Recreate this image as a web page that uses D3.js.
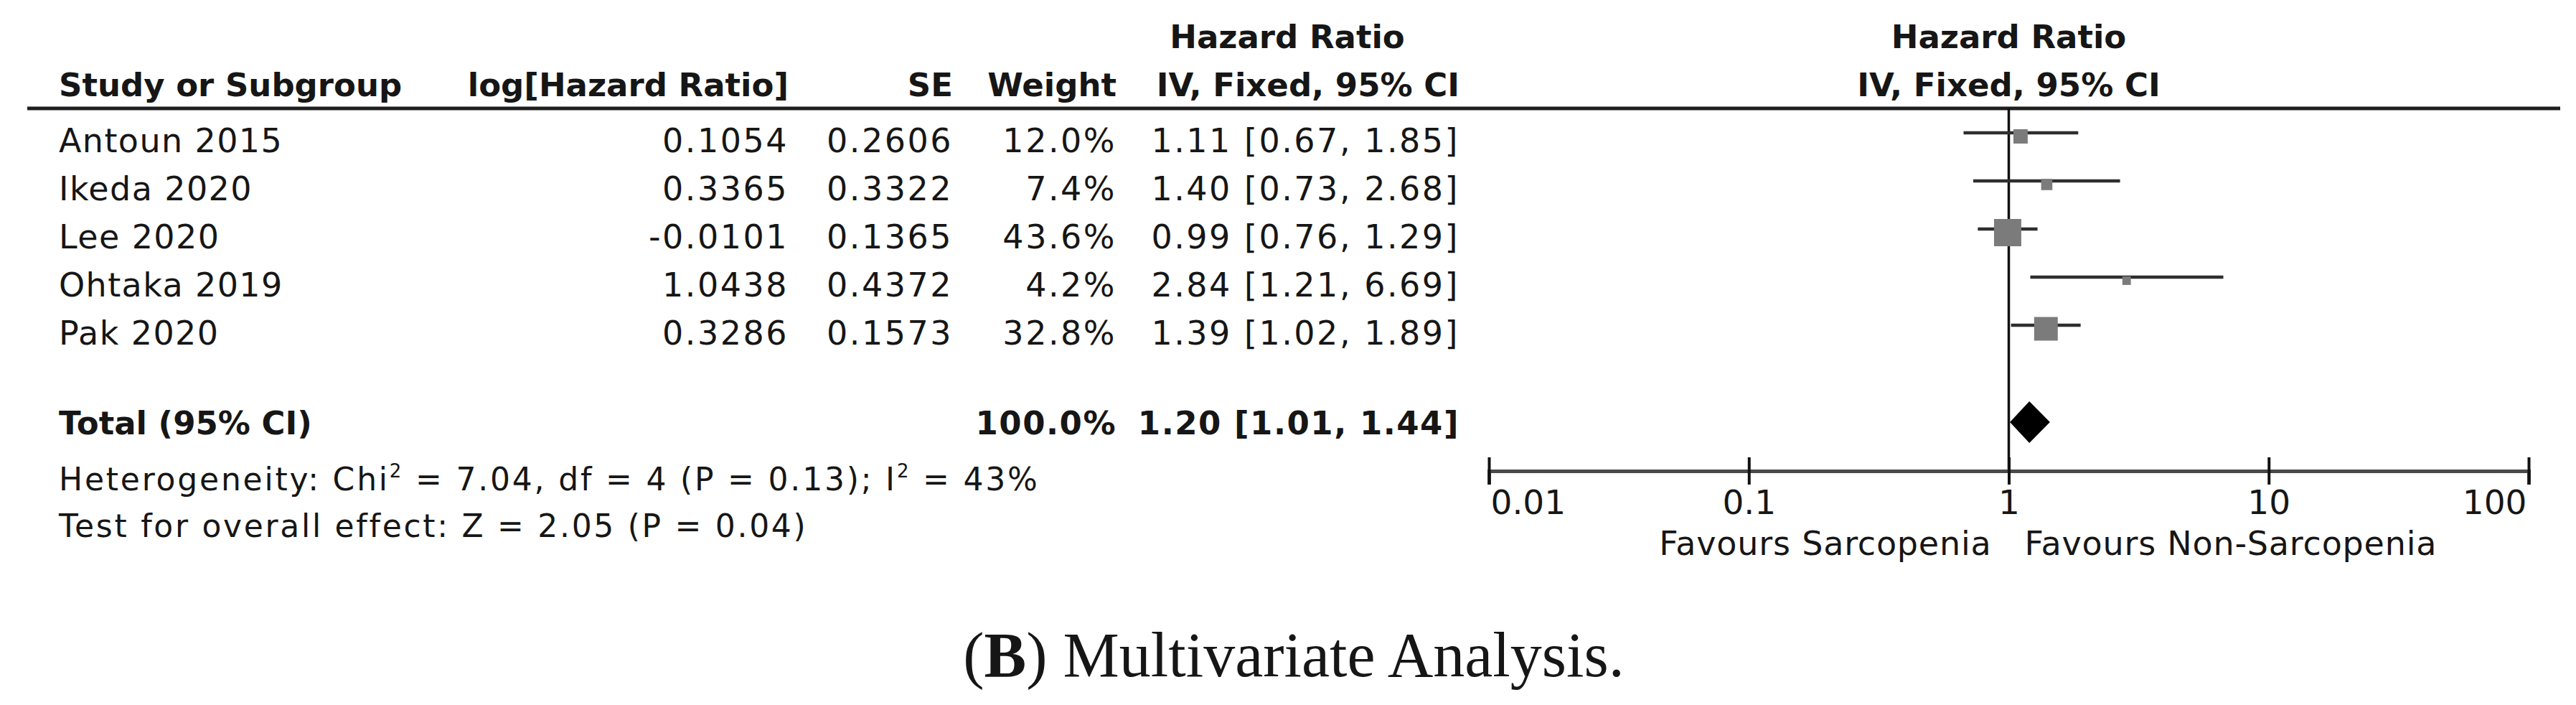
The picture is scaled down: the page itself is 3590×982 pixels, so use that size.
<!DOCTYPE html>
<html>
<head>
<meta charset="utf-8">
<script src="https://cdn.jsdelivr.net/npm/d3@7"></script>
<style>
  html, body { margin: 0; padding: 0; background: #ffffff; }
  svg { display: block; }
  text { fill: #161616; font-family: "DejaVu Sans", sans-serif; }
</style>
</head>
<body>
<script>
// ---------------- data ----------------
const studies   = ["Antoun 2015", "Ikeda 2020", "Lee 2020", "Ohtaka 2019", "Pak 2020"];
const logHR     = ["0.1054", "0.3365", "-0.0101", "1.0438", "0.3286"];
const seVals    = ["0.2606", "0.3322", "0.1365", "0.4372", "0.1573"];
const weights   = [12.0, 7.4, 43.6, 4.2, 32.8];
const hrVals    = [1.11, 1.40, 0.99, 2.84, 1.39];
const ciLow     = [0.67, 0.73, 0.76, 1.21, 1.02];
const ciHigh    = [1.85, 2.68, 1.29, 6.69, 1.89];
const totalLabel = "Total (95% CI)";
const totalWeight = 100.0;
const totalHR   = [1.20, 1.01, 1.44];   // estimate, low, high
const heterogeneity = ["Heterogeneity: Chi", "2", " = 7.04, df = 4 (P = 0.13); I", "2", " = 43%"];
const overallTest = "Test for overall effect: Z = 2.05 (P = 0.04)";
const axisTicks = [0.01, 0.1, 1, 10, 100];
const axisTickLabels = ["0.01", "0.1", "1", "10", "100"];
const favoursLeft = "Favours Sarcopenia";
const favoursRight = "Favours Non-Sarcopenia";
const colHeaders = ["Study or Subgroup", "log[Hazard Ratio]", "SE", "Weight", "IV, Fixed, 95% CI"];
const groupHeader = "Hazard Ratio";
const plotHeader = ["Hazard Ratio", "IV, Fixed, 95% CI"];

// ---------------- layout ----------------
const W = 3590, H = 982;
const svg = d3.select("body").append("svg").attr("width", W).attr("height", H);
svg.append("rect").attr("width", W).attr("height", H).attr("fill", "#ffffff");

const FS = 46, FSB = 45, NUM_LS = 2.5;
const colX = { study: 82, logHR: 1099, se: 1328, weight: 1556, ci: 2034 };
const x = d3.scaleLog().domain([0.01, 100]).range([2075, 3524]);
const rowY = d3.scaleLinear().domain([0, studies.length - 1]).range([212, 480]); // text baselines
const yHeader2 = 134, yHeader1 = 67, yRule = 151;
const yTotal = 605, yHet = 683, yTest = 748, yAxis = 656, yFavours = 773;
const sq = d3.scaleSqrt().domain([0, 100]).range([0, 57.5]);
const fmtW = d3.format(".1f"), fmt2 = d3.format(".2f");
const ciText = (h, l, u) => `${fmt2(h)} [${fmt2(l)}, ${fmt2(u)}]`;

// headers
const hdr = svg.append("g").attr("font-weight", "bold").attr("font-size", FSB);
hdr.append("text").attr("x", colX.study).attr("y", yHeader2).text(colHeaders[0]);
hdr.append("text").attr("x", colX.logHR).attr("y", yHeader2).attr("text-anchor", "end").text(colHeaders[1]);
hdr.append("text").attr("x", colX.se).attr("y", yHeader2).attr("text-anchor", "end").text(colHeaders[2]);
hdr.append("text").attr("x", colX.weight).attr("y", yHeader2).attr("text-anchor", "end").text(colHeaders[3]);
hdr.append("text").attr("x", 1794).attr("y", yHeader1).attr("text-anchor", "middle").text(groupHeader);
hdr.append("text").attr("x", colX.ci).attr("y", yHeader2).attr("text-anchor", "end").text(colHeaders[4]);
hdr.append("text").attr("x", x(1)).attr("y", yHeader1).attr("text-anchor", "middle").text(plotHeader[0]);
hdr.append("text").attr("x", x(1)).attr("y", yHeader2).attr("text-anchor", "middle").text(plotHeader[1]);

// header rule
svg.append("line").attr("x1", 38).attr("x2", 3568).attr("y1", yRule).attr("y2", yRule)
  .attr("stroke", "#1e1e1e").attr("stroke-width", 5);

// study rows
const rows = svg.append("g").attr("font-size", FS);
studies.forEach((s, i) => {
  const y = rowY(i);
  rows.append("text").attr("x", colX.study).attr("y", y).attr("letter-spacing", 1.4).text(s);
  rows.append("text").attr("x", colX.logHR).attr("y", y).attr("text-anchor", "end")
    .attr("letter-spacing", NUM_LS).text(logHR[i]);
  rows.append("text").attr("x", colX.se).attr("y", y).attr("text-anchor", "end")
    .attr("letter-spacing", NUM_LS).text(seVals[i]);
  rows.append("text").attr("x", colX.weight).attr("y", y).attr("text-anchor", "end")
    .attr("letter-spacing", NUM_LS).text(fmtW(weights[i]) + "%");
  rows.append("text").attr("x", colX.ci).attr("y", y).attr("text-anchor", "end")
    .attr("letter-spacing", NUM_LS).text(ciText(hrVals[i], ciLow[i], ciHigh[i]));
});

// total row
const tot = svg.append("g").attr("font-size", FSB).attr("font-weight", "bold");
tot.append("text").attr("x", colX.study).attr("y", yTotal).text(totalLabel);
tot.append("text").attr("x", colX.weight).attr("y", yTotal).attr("text-anchor", "end")
  .attr("letter-spacing", NUM_LS - 1).text(fmtW(totalWeight) + "%");
tot.append("text").attr("x", colX.ci).attr("y", yTotal).attr("text-anchor", "end")
  .attr("letter-spacing", NUM_LS - 1).text(ciText(totalHR[0], totalHR[1], totalHR[2]));

// heterogeneity & overall test
const het = svg.append("text").attr("x", colX.study).attr("y", yHet).attr("font-size", 44)
  .attr("letter-spacing", 2.8);
heterogeneity.forEach((t, i) => {
  if (i % 2 === 1) {
    het.append("tspan").attr("dy", -18).attr("font-size", 26).text(t);
  } else {
    het.append("tspan").attr("dy", i === 0 ? 0 : 18).text(t);
  }
});
svg.append("text").attr("x", colX.study).attr("y", yTest).attr("font-size", 44)
  .attr("letter-spacing", 2.7).text(overallTest);

// ---------------- forest plot ----------------
const plot = svg.append("g");
// line of no effect
plot.append("line").attr("x1", x(1)).attr("x2", x(1)).attr("y1", yRule).attr("y2", yAxis)
  .attr("stroke", "#111").attr("stroke-width", 3.5);

// CIs and squares
studies.forEach((s, i) => {
  const yl = rowY(i) - 27, ys = rowY(i) - 22;
  plot.append("line").attr("x1", x(ciLow[i])).attr("x2", x(ciHigh[i]))
    .attr("y1", yl).attr("y2", yl).attr("stroke", "#2e2e2e").attr("stroke-width", 4.5);
  const side = sq(weights[i]);
  plot.append("rect").attr("x", x(hrVals[i]) - side / 2).attr("y", ys - side / 2)
    .attr("width", side).attr("height", side).attr("fill", "#7b7b7b");
});

// diamond
const yD = yTotal - 17;
plot.append("path")
  .attr("d", d3.line()([
    [x(totalHR[1]), yD], [x(totalHR[0]), yD - 29], [x(totalHR[2]), yD], [x(totalHR[0]), yD + 29]
  ]) + "Z")
  .attr("fill", "#000");

// axis
const axis = d3.axisBottom(x).tickValues(axisTicks)
  .tickFormat((d, i) => axisTickLabels[i]).tickSizeOuter(0).tickSize(19);
const ag = svg.append("g").attr("transform", `translate(0,${yAxis})`).call(axis);
ag.select(".domain").attr("stroke", "#4a4a4a").attr("stroke-width", 5);
ag.selectAll(".tick line").attr("y1", -19).attr("y2", 19).attr("stroke", "#111").attr("stroke-width", 4);
ag.selectAll(".tick text")
  .attr("y", 60).attr("dy", 0)
  .attr("font-size", 47).attr("font-family", "DejaVu Sans").attr("fill", "#161616")
  .attr("text-anchor", (d, i) => i === 0 ? "start" : (i === axisTicks.length - 1 ? "end" : "middle"))
  .attr("x", (d, i) => i === 0 ? 2 : (i === axisTicks.length - 1 ? -3 : 0));

// favours labels
svg.append("text").attr("x", x(1) - 24).attr("y", yFavours).attr("font-size", FS)
  .attr("letter-spacing", 0.8).attr("text-anchor", "end").text(favoursLeft);
svg.append("text").attr("x", x(1) + 22).attr("y", yFavours).attr("font-size", FS)
  .attr("letter-spacing", 0.8).attr("text-anchor", "start").text(favoursRight);

// caption
const cap = svg.append("text").attr("x", 1803).attr("y", 942).attr("text-anchor", "middle")
  .attr("font-size", 88).style("font-family", "'Liberation Serif', 'DejaVu Serif', serif").attr("fill", "#000");
cap.append("tspan").text("(");
cap.append("tspan").attr("font-weight", "bold").text("B");
cap.append("tspan").text(") Multivariate Analysis.");
</script>
</body>
</html>
